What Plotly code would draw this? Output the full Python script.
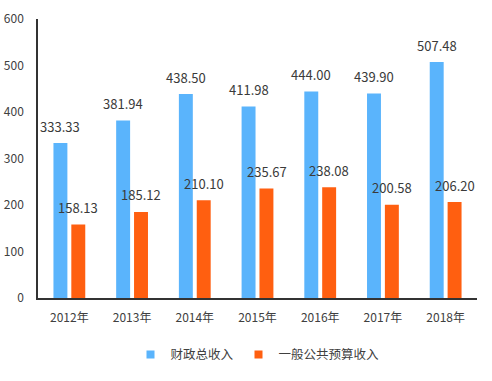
import plotly.graph_objects as go

years = ["2012年", "2013年", "2014年", "2015年", "2016年", "2017年", "2018年"]
total_rev = [333.33, 381.94, 438.50, 411.98, 444.00, 439.90, 507.48]
budget_rev = [158.13, 185.12, 210.10, 235.67, 238.08, 200.58, 206.20]
series_names = ["财政总收入", "一般公共预算收入"]
series_colors = ["#5AB4FC", "#FF5F10"]
y_ticks = [0, 100, 200, 300, 400, 500, 600]

FONT = "Noto Sans CJK SC, Noto Sans, sans-serif"

fig = go.Figure()
for vals, name, color in [(total_rev, series_names[0], series_colors[0]),
                          (budget_rev, series_names[1], series_colors[1])]:
    fig.add_trace(go.Bar(
        x=years, y=vals, name=name, showlegend=False,
        marker=dict(color=color, line=dict(width=0)),
    ))
# legend entries with small square markers
for name, color in zip(series_names, series_colors):
    fig.add_trace(go.Scatter(
        x=[None], y=[None], mode="markers", name=name,
        marker=dict(symbol="square", size=8, color=color),
    ))

# value labels above the bars
for vals, dx in [(total_rev, -9), (budget_rev, 9)]:
    for cat, v in zip(years, vals):
        fig.add_annotation(x=cat, y=v, text=f"{v:.2f}", showarrow=False,
                           xshift=dx, yshift=17, yanchor="middle",
                           font=dict(size=13, color="#3a3a3a", family=FONT))

fig.update_layout(
    width=492, height=381,
    margin=dict(l=38, r=15, t=19, b=83, autoexpand=False),
    paper_bgcolor="white", plot_bgcolor="white",
    barmode="group", bargap=0.43, bargroupgap=0.22,
    font=dict(family=FONT, size=12, color="#404040"),
    showlegend=True,
    legend=dict(orientation="h", x=0.5, xanchor="center", y=-0.204, yanchor="middle",
                font=dict(size=12.5, color="#404040"), itemwidth=30, traceorder="normal",
                tracegroupgap=0),
)
fig.update_xaxes(showline=True, linecolor="#333333", linewidth=1.5, ticks="",
                 tickfont=dict(size=12, color="#404040"), showgrid=False,
                 ticklabelstandoff=8, automargin=False)
fig.update_yaxes(range=[0, 600], tickvals=y_ticks, showline=True, linecolor="#333333",
                 linewidth=1.5, showgrid=False, zeroline=False, ticks="",
                 tickfont=dict(size=12, color="#404040"), ticklabelstandoff=10,
                 automargin=False)

# remove the browser's default 8px body margin so the figure fills the window
fig.write_html("out.html", config={"displayModeBar": False},
               post_script="document.body.style.margin='0';")
